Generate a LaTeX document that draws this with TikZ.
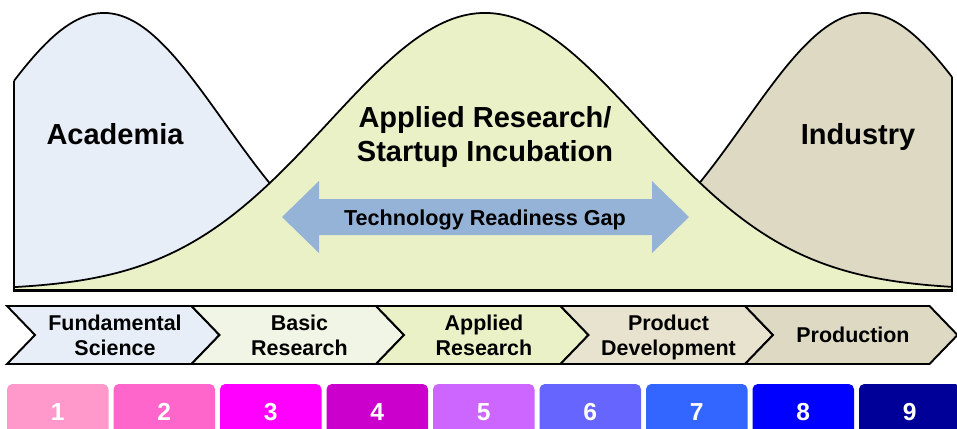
\documentclass[tikz,border=0pt]{standalone}
\usepackage{fontspec}
\setmainfont{Liberation Sans}
\usepackage{xcolor}
\usepackage{tikz}
\definecolor{acadfill}{HTML}{E7EEF7}
\definecolor{appfill}{HTML}{EBF1C6}
\definecolor{indfill}{HTML}{DDD9C3}
\definecolor{basicfill}{HTML}{F0F5E6}
\definecolor{prodfill}{HTML}{E8E3CE}
\definecolor{gapfill}{HTML}{95B3D7}
\definecolor{trlA}{HTML}{FF99CC}
\definecolor{trlB}{HTML}{FF66CC}
\definecolor{trlC}{HTML}{FF00FF}
\definecolor{trlD}{HTML}{CC00CC}
\definecolor{trlE}{HTML}{CC66FF}
\definecolor{trlF}{HTML}{6666FF}
\definecolor{trlG}{HTML}{3366FF}
\definecolor{trlH}{HTML}{0000FF}
\definecolor{trlI}{HTML}{000099}
\tikzset{every node/.append style={font=\bfseries, inner sep=0pt}}

\begin{document}
\begin{tikzpicture}[x=0.02cm, y=-0.02cm,
    curve/.style={line width=1pt, line join=round},
    side/.style={line width=1.6pt},
    bigtext/.style={font=\bfseries\fontsize{16.5}{19.3}\selectfont, align=center},
    stagetext/.style={font=\bfseries\fontsize{12.2}{14.2}\selectfont, align=center, text depth=0pt},
    chev/.style={line width=1.1pt, line join=miter},
    trlbox/.style={draw=none, rounded corners=3pt}]
    \clip (0,0) rectangle (957,429);
    \fill[acadfill] (14,290) -- plot[domain=14:290, samples=80] (\x, {290-277*exp(-0.5*((\x-104)/120)^2)}) -- (290,290) -- cycle;
    \draw[curve] plot[domain=14:290, samples=80] (\x, {290-277*exp(-0.5*((\x-104)/120)^2)});
    \fill[indfill] (680,290) -- plot[domain=680:952, samples=80] (\x, {290-277*exp(-0.5*((\x-865)/120)^2)}) -- (952,290) -- cycle;
    \draw[curve] plot[domain=680:952, samples=80] (\x, {290-277*exp(-0.5*((\x-865)/120)^2)});
    \draw[curve, fill=appfill] (14,290) -- plot[domain=14:952, samples=200] (\x, {290-277*exp(-0.5*((\x-485)/156)^2)}) -- (952,290) -- cycle;
    \draw[side] (14,290) -- (14,{290-277*exp(-0.5*((14-104)/120)^2)});
    \draw[side] (952,290) -- (952,{290-277*exp(-0.5*((952-865)/120)^2)});
    \draw[side] (13,291) -- (953,291);
    \fill[gapfill] (282,217) -- (319,181) -- (319,199) -- (652,199) -- (652,181) -- (689,217)
        -- (652,253) -- (652,235) -- (319,235) -- (319,253) -- cycle;
    \node[anchor=base, font=\bfseries\fontsize{12.3}{14}\selectfont] (gap) at (485,225) {Technology Readiness Gap};
    \node[bigtext, anchor=base] (acad) at (115,145) {Academia};
    \node[bigtext, anchor=base] (ind) at (858,145) {Industry};
    \node[bigtext, text depth=0pt] (app) at (485,134) {Applied Research/\\Startup Incubation};
    \foreach \i/\fc/\txt in {0/acadfill/{Fundamental\\Science}, 1/basicfill/{Basic\\Research},
        2/appfill/{Applied\\Research}, 3/prodfill/{Product\\Development}, 4/indfill/{Production}} {
        \draw[chev, fill=\fc] ({7+\i*184.5},306) -- ++(184.5,0) -- ++(28,29) -- ++(-28,29)
            -- ++(-184.5,0) -- ++(28,-29) -- cycle;
        \node[stagetext] (stage\i) at ({115+\i*184.5},335) {\txt};
    }
    \foreach \i/\c in {1/trlA, 2/trlB, 3/trlC, 4/trlD, 5/trlE, 6/trlF, 7/trlG, 8/trlH, 9/trlI} {
        \fill[trlbox, \c] ({7+(\i-1)*106.5},384) rectangle ++(101.5,60);
        \node[anchor=base, text=white, font=\bfseries\fontsize{14}{16}\selectfont] (trl\i)
            at ({57.75+(\i-1)*106.5},420) {\i};
    }
\end{tikzpicture}
\end{document}
